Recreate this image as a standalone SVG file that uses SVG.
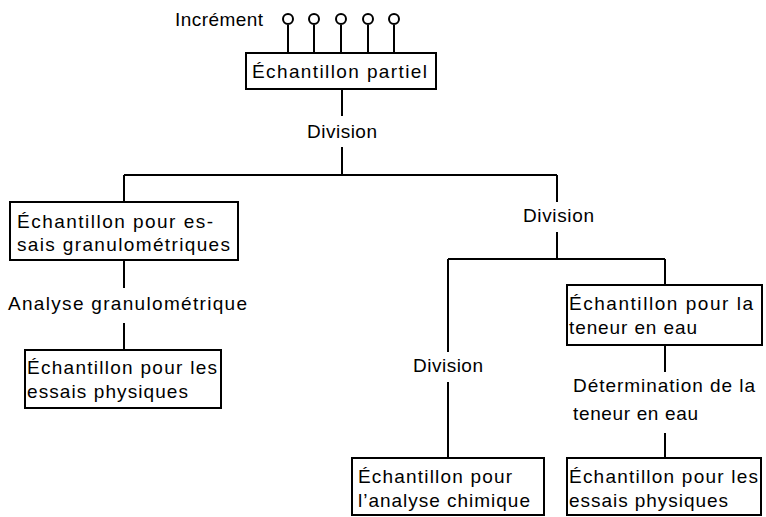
<svg xmlns="http://www.w3.org/2000/svg" width="766" height="517" viewBox="0 0 766 517">
<style>
.box{fill:#fff;stroke:#000;stroke-width:2}
.ln{fill:none;stroke:#000;stroke-width:2}
.c{fill:#fff;stroke:#000;stroke-width:2}
text{font-family:"Liberation Sans","DejaVu Sans",sans-serif;font-size:19px;fill:#000}
</style>
<rect width="766" height="517" fill="#fff"/>
<g id="connectors">
<path class="ln" d="M288,25V53M314,25V53M341,25V53M368,25V53M394,25V53"/>
<path class="ln" d="M342,89V116M342,147V175M124,175H557M124,175V202"/>
<path class="ln" d="M124,260V288M124,323V350"/>
<path class="ln" d="M557,175V202M557,232V259M448,259H665M665,259V285"/>
<path class="ln" d="M448,259V352M448,382V458"/>
<path class="ln" d="M665,345V372M665,433V458"/>
</g>
<g id="increment">
<text x="175" y="26" textLength="88" lengthAdjust="spacing">Incrément</text>
<circle class="c" cx="288" cy="19" r="5"/>
<circle class="c" cx="314" cy="19" r="5"/>
<circle class="c" cx="341" cy="19" r="5"/>
<circle class="c" cx="368" cy="19" r="5"/>
<circle class="c" cx="394" cy="19" r="5"/>
</g>
<g id="partiel">
<rect class="box" x="246" y="53" width="190" height="36"/>
<text x="252" y="78" textLength="175" lengthAdjust="spacing">Échantillon partiel</text>
</g>
<g id="division1"><text x="307" y="138" textLength="70" lengthAdjust="spacing">Division</text></g>
<g id="granulo">
<rect class="box" x="10" y="202" width="228" height="58"/>
<text x="17" y="228" textLength="196" lengthAdjust="spacing">Échantillon pour es-</text>
<text x="17" y="251" textLength="213" lengthAdjust="spacing">sais granulométriques</text>
</g>
<g id="analyse"><text x="8" y="310" textLength="239" lengthAdjust="spacing">Analyse granulométrique</text></g>
<g id="physiques1">
<rect class="box" x="25" y="350" width="196" height="58"/>
<text x="27" y="374" textLength="190" lengthAdjust="spacing">Échantillon pour les</text>
<text x="27" y="398" textLength="161" lengthAdjust="spacing">essais physiques</text>
</g>
<g id="division2"><text x="523" y="222" textLength="71" lengthAdjust="spacing">Division</text></g>
<g id="teneur">
<rect class="box" x="567" y="285" width="195" height="60"/>
<text x="569" y="310" textLength="184" lengthAdjust="spacing">Échantillon pour la</text>
<text x="569" y="334" textLength="128" lengthAdjust="spacing">teneur en eau</text>
</g>
<g id="determination">
<text x="573" y="392" textLength="182" lengthAdjust="spacing">Détermination de la</text>
<text x="573" y="420" textLength="125" lengthAdjust="spacing">teneur en eau</text>
</g>
<g id="division3"><text x="413" y="372" textLength="70" lengthAdjust="spacing">Division</text></g>
<g id="chimique">
<rect class="box" x="352" y="458" width="192" height="57"/>
<text x="358" y="483" textLength="154" lengthAdjust="spacing">Échantillon pour</text>
<text x="358" y="507" textLength="172" lengthAdjust="spacing">l’analyse chimique</text>
</g>
<g id="physiques2">
<rect class="box" x="567" y="458" width="194" height="57"/>
<text x="569" y="483" textLength="189" lengthAdjust="spacing">Échantillon pour les</text>
<text x="569" y="507" textLength="159" lengthAdjust="spacing">essais physiques</text>
</g>
</svg>
